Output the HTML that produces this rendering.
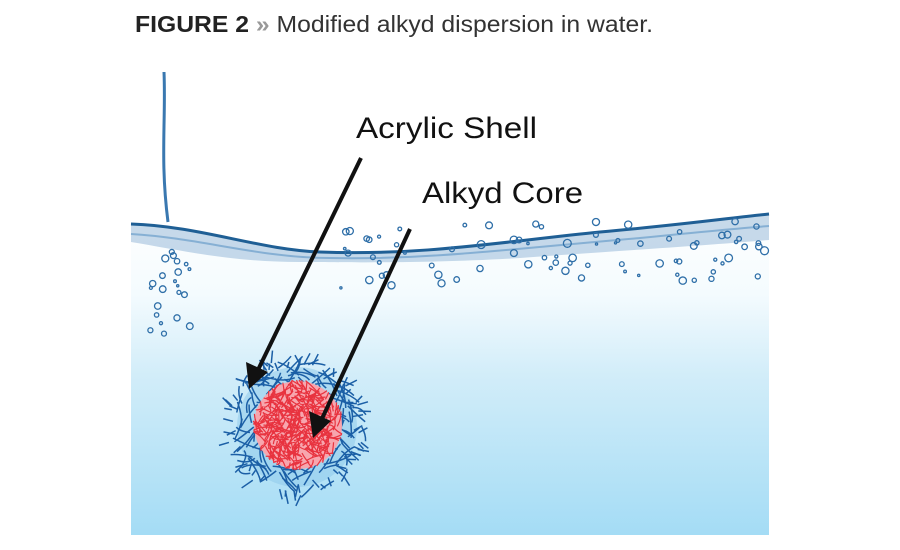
<!DOCTYPE html>
<html><head><meta charset="utf-8"><style>
html,body{margin:0;padding:0;background:#fff;width:900px;height:550px;overflow:hidden}
svg{display:block}
</style></head><body>
<svg id="s" width="900" height="550" viewBox="0 0 900 550" xmlns="http://www.w3.org/2000/svg">
<defs>
<linearGradient id="w" x1="0" y1="0" x2="0" y2="1">
<stop offset="0" stop-color="#ffffff"/>
<stop offset="0.25" stop-color="#f4fbfe"/>
<stop offset="0.5" stop-color="#d2edf9"/>
<stop offset="1" stop-color="#a4dcf5"/>
</linearGradient>
</defs>
<text x="135" y="32" font-family="Liberation Sans, sans-serif" font-size="23" fill="#222" textLength="518" lengthAdjust="spacingAndGlyphs"><tspan font-weight="bold">FIGURE 2</tspan><tspan fill="#999" font-weight="bold"> » </tspan><tspan fill="#333">Modified alkyd dispersion in water.</tspan></text>
<path d="M131,224 C200,226 260,250 320,252 C420,256 500,242 600,232 C680,225 730,218 769,214 L769,535 L131,535 Z" fill="url(#w)"/>
<path d="M131,224 C200,226 260,250 320,252 C420,256 500,242 600,232 C680,225 730,218 769,214 L769,240 C700,246 600,252 520,258 C420,264 340,262 300,262 C230,262 180,250 131,242 Z" fill="#4a86b8" opacity="0.3"/>
<path d="M131,224 C200,226 260,250 320,252 C420,256 500,242 600,232 C680,225 730,218 769,214" fill="none" stroke="#1f5f95" stroke-width="3"/>
<path d="M131,234 C200,238 260,258 330,258 C430,260 520,248 640,238 C700,232 740,228 769,226" fill="none" stroke="#5b95c4" stroke-width="2" opacity="0.6"/>
<path d="M164,72 C166,120 160,160 168,222" fill="none" stroke="#3a78b0" stroke-width="3"/>
<g id="bub" fill="none" stroke="#2f6fa8" stroke-width="1.3"></g>
<circle cx="297" cy="427" r="60" fill="#8cc8ea" opacity="0.5"/>
<g id="shell" fill="none" stroke="#1b5fa6" stroke-width="1.5"></g>
<circle cx="298" cy="425" r="44" fill="#f7a6ae"/>
<g id="core" fill="none" stroke="#e8333f" stroke-width="1.2"></g>
<line x1="361" y1="158" x2="256" y2="374" stroke="#111" stroke-width="4"/>
<polygon points="249,389 246,362 268,372" fill="#111"/>
<line x1="410" y1="229" x2="320" y2="423" stroke="#111" stroke-width="4"/>
<polygon points="313,438 309,411 331,421" fill="#111"/>
<text x="356" y="138" font-family="Liberation Sans, sans-serif" font-size="30" fill="#111" textLength="181" lengthAdjust="spacingAndGlyphs">Acrylic Shell</text>
<text x="422" y="203" font-family="Liberation Sans, sans-serif" font-size="30" fill="#111" textLength="161" lengthAdjust="spacingAndGlyphs">Alkyd Core</text>
</svg>
<script>
var seed=7;function r(){seed=(seed*16807)%2147483647;return seed/2147483647;}
var ns="http://www.w3.org/2000/svg";
function add(g,d){var p=document.createElementNS(ns,"path");p.setAttribute("d",d);document.getElementById(g).appendChild(p);}
var i,a,rad,x,y,b,l;
for(i=0;i<110;i++){a=r()*6.283;rad=40+r()*28;x=296+Math.cos(a)*rad;y=427+Math.sin(a)*rad;
b=a+1.57+(r()-.5)*2.4;l=14+r()*16;
var x2=x+Math.cos(b)*l,y2=y+Math.sin(b)*l,d2=Math.hypot(x2-296,y2-427);if(d2>71){x2=296+(x2-296)*71/d2;y2=427+(y2-427)*71/d2;}
add("shell","M"+x+","+y+" Q"+((x+x2)/2+(r()-.5)*10)+","+((y+y2)/2+(r()-.5)*10)+" "+x2+","+y2);}
for(i=0;i<70;i++){a=r()*6.283;rad=55+r()*14;x=296+Math.cos(a)*rad;y=427+Math.sin(a)*rad;
b=a+(r()-.5)*1.2;l=6+r()*8;add("shell","M"+x+","+y+" l"+Math.cos(b)*l+","+Math.sin(b)*l);}
for(i=0;i<380;i++){a=r()*6.283;rad=Math.sqrt(r())*40;x=298+Math.cos(a)*rad;y=425+Math.sin(a)*rad;
b=r()*6.283;l=6+r()*14;var x2=x+Math.cos(b)*l,y2=y+Math.sin(b)*l,d2=Math.hypot(x2-298,y2-425);if(d2>45){x2=298+(x2-298)*45/d2;y2=425+(y2-425)*45/d2;}
add("core","M"+x+","+y+" Q"+((x+x2)/2+(r()-.5)*6)+","+((y+y2)/2+(r()-.5)*6)+" "+x2+","+y2);}
var g=document.getElementById("bub");
for(i=0;i<80;i++){x=340+r()*425;y=228+r()*62-((x-340)/425)*10;var c=document.createElementNS(ns,"circle");
c.setAttribute("cx",x);c.setAttribute("cy",y);c.setAttribute("r",1+r()*3);g.appendChild(c);}
for(i=0;i<22;i++){x=150+r()*40;y=240+r()*95;var c=document.createElementNS(ns,"circle");
c.setAttribute("cx",x);c.setAttribute("cy",y);c.setAttribute("r",1+r()*2.5);g.appendChild(c);}
</script>
</body></html>
